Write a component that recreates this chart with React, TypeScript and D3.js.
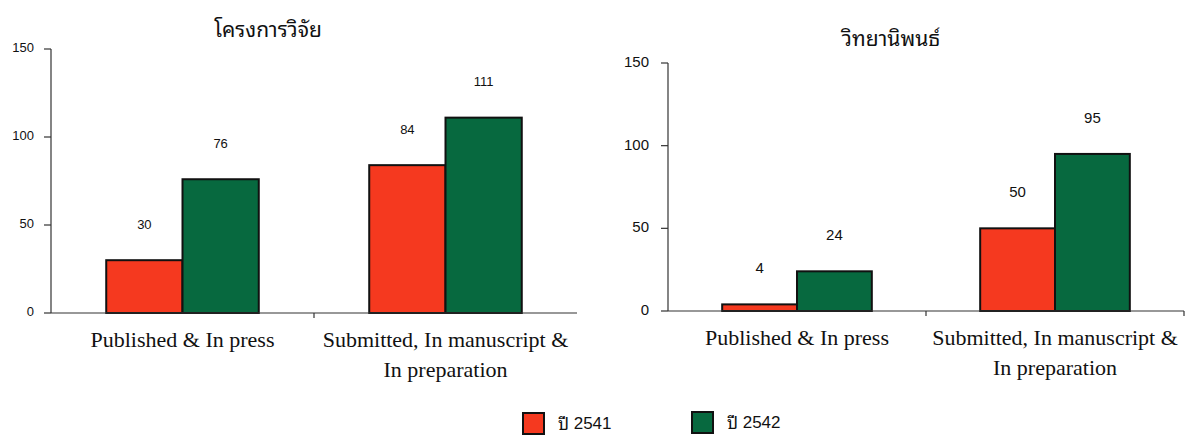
import React from "react";
import * as d3 from "d3";

const categories = ["Published & In press", "Submitted, In manuscript & In preparation"];
const categoryLines = [["Published & In press"], ["Submitted, In manuscript &", "In preparation"]];
const seriesNames = ["ปี 2541", "ปี 2542"];
const seriesKeys = ["2541", "2542"];
const researchTitle = "โครงการวิจัย";
const research2541 = [30, 84];
const research2542 = [76, 111];
const thesisTitle = "วิทยานิพนธ์";
const thesis2541 = [4, 50];
const thesis2542 = [24, 95];
const yTicks = [0, 50, 100, 150];

const RED = "#f5391f";
const GREEN = "#07693f";
const THAI = "'Noto Sans Thai Looped', 'Noto Serif Thai', 'Noto Sans Thai', Tahoma, 'Noto Sans', sans-serif";
const SANS = "'Liberation Sans', Arial, sans-serif";
const SERIF = "'Liberation Serif', 'Times New Roman', serif";

type PanelProps = {
  title: string;
  titleX: number;
  titleY: number;
  a: number[];
  b: number[];
  x0: number;
  x1: number;
  base: number;
  top: number;
  numFont: number;
  numFamily: string;
  labelGap: number;
  rightTick: boolean;
};

function Panel(p: PanelProps) {
  const y = d3.scaleLinear().domain([0, 150]).range([p.base, p.top]);
  const x = d3.scaleBand().domain(categories).range([p.x0, p.x1]).paddingInner(0.42).paddingOuter(0.21);
  const sub = d3.scaleBand().domain(seriesKeys).range([0, x.bandwidth()]);
  const step = x.step();
  const values = [p.a, p.b];
  const colors = [RED, GREEN];
  const boundaries = categories.map((_, i) => p.x0 + step * (i + 1)).filter((_, i) => i < categories.length - 1 || p.rightTick);
  return (
    <g>
      <text x={p.titleX} y={p.titleY} textAnchor="middle" dominantBaseline="middle" fontFamily={THAI} fontSize={21} fill="#111">
        {p.title}
      </text>
      <line x1={p.x0} x2={p.x0} y1={y(150)} y2={y(0)} stroke="#333" strokeWidth={1.2} />
      {yTicks.map((t) => (
        <g key={t}>
          <line x1={p.x0 - 7} x2={p.x0} y1={y(t)} y2={y(t)} stroke="#333" strokeWidth={1.2} />
          <text x={p.x0 - p.labelGap} y={y(t)} textAnchor="end" dominantBaseline="middle" fontFamily={p.numFamily} fontSize={p.numFont} fill="#111">
            {t}
          </text>
        </g>
      ))}
      {categories.map((c, ci) =>
        seriesKeys.map((s, si) => {
          const v = values[si][ci];
          const bx = (x(c) as number) + (sub(s) as number);
          return (
            <g key={c + s}>
              <rect x={bx} y={y(v)} width={sub.bandwidth()} height={y(0) - y(v)} fill={colors[si]} stroke="#111" strokeWidth={2} />
              <text x={bx + sub.bandwidth() / 2} y={y(v) - 35} textAnchor="middle" dominantBaseline="middle" fontFamily={p.numFamily} fontSize={p.numFont} fill="#111">
                {v}
              </text>
            </g>
          );
        })
      )}
      <line x1={p.x0} x2={p.x1} y1={y(0)} y2={y(0)} stroke="#333" strokeWidth={1.2} />
      {boundaries.map((bx, i) => (
        <line key={i} x1={bx} x2={bx} y1={y(0)} y2={y(0) + 5} stroke="#333" strokeWidth={1.2} />
      ))}
      {categories.map((c, ci) =>
        categoryLines[ci].map((line, li) => (
          <text key={c + li} x={(x(c) as number) + x.bandwidth() / 2} y={p.base + 29 + li * 30} textAnchor="middle" dominantBaseline="middle" fontFamily={SERIF} fontSize={22} fill="#111">
            {line}
          </text>
        ))
      )}
    </g>
  );
}

export default function App() {
  const legendX = [523, 692];
  const legendY = [413, 412];
  const colors = [RED, GREEN];
  return (
    <svg width={1187} height={441} style={{ position: "absolute", left: 0, top: 0, background: "#fff" }}>
      <rect width={1187} height={441} fill="#fff" />
      <Panel title={researchTitle} titleX={268} titleY={31} a={research2541} b={research2542} x0={51} x1={577} base={313} top={49} numFont={13} numFamily={SANS} labelGap={17} rightTick={false} />
      <Panel title={thesisTitle} titleX={891} titleY={40} a={thesis2541} b={thesis2542} x0={668} x1={1184} base={311} top={63} numFont={15} numFamily={SANS} labelGap={19} rightTick={true} />
      {seriesNames.map((n, i) => {
        const [thai, num] = n.split(" ");
        return (
          <g key={n}>
            <rect x={legendX[i]} y={legendY[i]} width={21} height={21} fill={colors[i]} stroke="#111" strokeWidth={2} />
            <text x={legendX[i] + 35} y={legendY[i] + 12} dominantBaseline="middle" fontSize={17} fill="#111">
              <tspan fontFamily={THAI}>{thai}</tspan>
              <tspan fontFamily={SANS}>{" " + num}</tspan>
            </text>
          </g>
        );
      })}
    </svg>
  );
}
